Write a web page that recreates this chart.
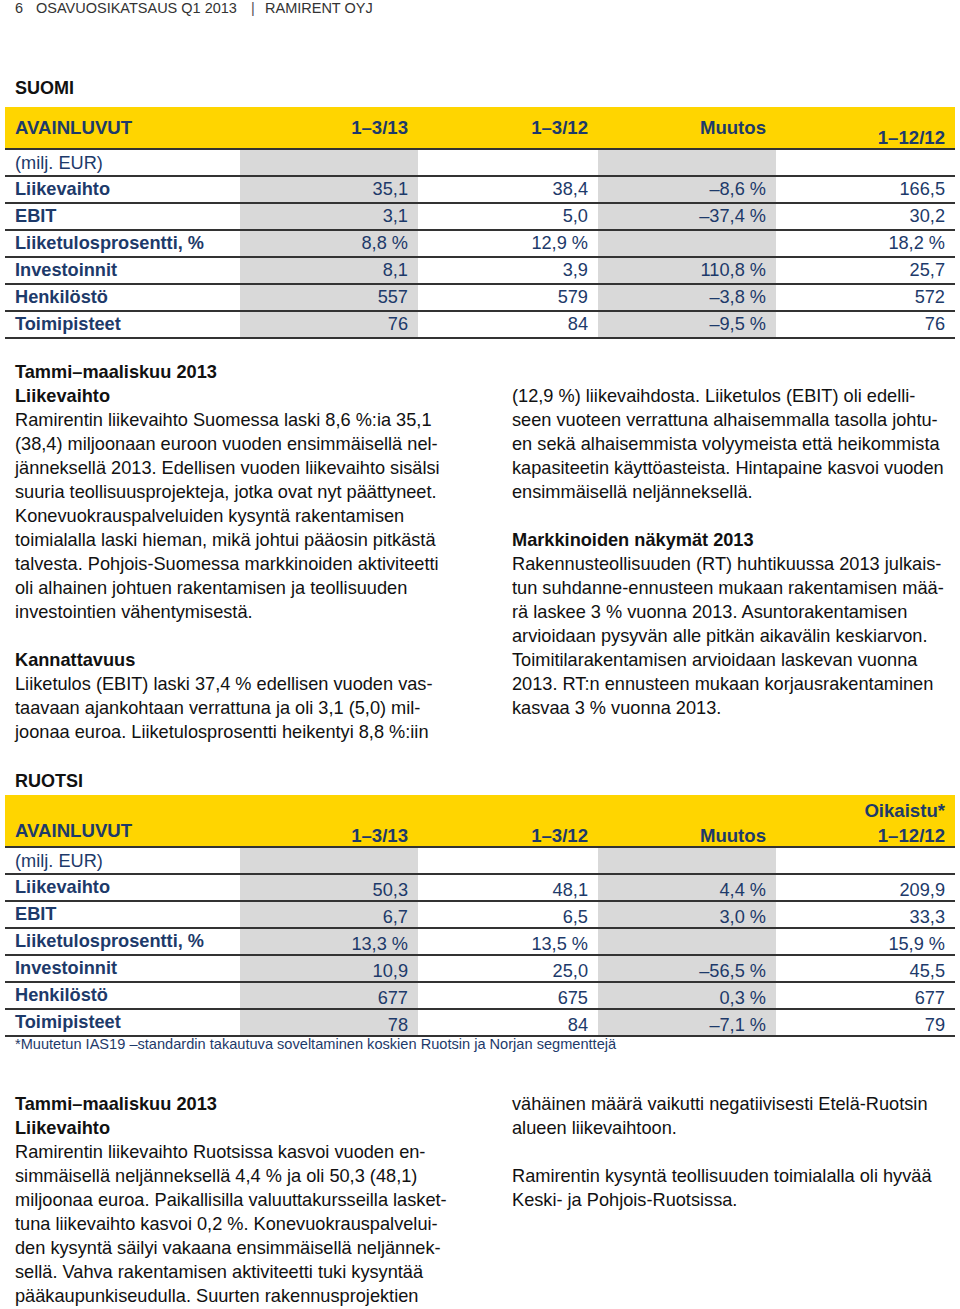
<!DOCTYPE html>
<html>
<head>
<meta charset="utf-8">
<script src="https://cdn.jsdelivr.net/npm/chart.js@4.4.0/dist/chart.umd.min.js"></script>
<style>
  html, body { margin: 0; padding: 0; background: #fff; }
  body { width: 960px; height: 1309px; position: relative; overflow: hidden;
         font-family: "Liberation Sans", Arial, Helvetica, sans-serif; color: #111; }
  .abs { position: absolute; white-space: nowrap; }
  .band { position: absolute; background: #ffd500; }
  .gray { position: absolute; background: #d9d9d9; }
  .rule { position: absolute; height: 2px; background: #333; }
  .cell { position: absolute; display: flex; color: #1d3a6a; font-size: 18.2px; white-space: nowrap; }
  .bold { font-weight: bold; }
  .line { position: absolute; font-size: 18.2px; line-height: 24px; white-space: nowrap; color: #111; }
</style>
</head>
<body>
<div id="page"></div>
<script>
// Table headings and rows
var rowLabels = ['Liikevaihto', 'EBIT', 'Liiketulosprosentti, %', 'Investoinnit', 'Henkilöstö', 'Toimipisteet'];
var colHeads = ['1–3/13', '1–3/12', 'Muutos', '1–12/12'];

// Suomi
var suomiQ113 = ['35,1', '3,1', '8,8 %', '8,1', '557', '76'];
var suomiQ112 = ['38,4', '5,0', '12,9 %', '3,9', '579', '84'];
var suomiChange = ['–8,6 %', '–37,4 %', '', '110,8 %', '–3,8 %', '–9,5 %'];
var suomiFY12 = ['166,5', '30,2', '18,2 %', '25,7', '572', '76'];

// Ruotsi
var ruotsiQ113 = ['50,3', '6,7', '13,3 %', '10,9', '677', '78'];
var ruotsiQ112 = ['48,1', '6,5', '13,5 %', '25,0', '675', '84'];
var ruotsiChange = ['4,4 %', '3,0 %', '', '–56,5 %', '0,3 %', '–7,1 %'];
var ruotsiFY12 = ['209,9', '33,3', '15,9 %', '45,5', '677', '79'];

var footnote = '*Muutetun IAS19 –standardin takautuva soveltaminen koskien Ruotsin ja Norjan segmenttejä';

// Body text, one entry per printed line ('#' = bold line)
var suomiLeft = [
  '#Tammi–maaliskuu 2013',
  '#Liikevaihto',
  'Ramirentin liikevaihto Suomessa laski 8,6 %:ia 35,1',
  '(38,4) miljoonaan euroon vuoden ensimmäisellä nel-',
  'jänneksellä 2013. Edellisen vuoden liikevaihto sisälsi',
  'suuria teollisuusprojekteja, jotka ovat nyt päättyneet.',
  'Konevuokrauspalveluiden kysyntä rakentamisen',
  'toimialalla laski hieman, mikä johtui pääosin pitkästä',
  'talvesta. Pohjois-Suomessa markkinoiden aktiviteetti',
  'oli alhainen johtuen rakentamisen ja teollisuuden',
  'investointien vähentymisestä.',
  '',
  '#Kannattavuus',
  'Liiketulos (EBIT) laski 37,4 % edellisen vuoden vas-',
  'taavaan ajankohtaan verrattuna ja oli 3,1 (5,0) mil-',
  'joonaa euroa. Liiketulosprosentti heikentyi 8,8 %:iin'
];
var suomiRight = [
  '',
  '(12,9 %) liikevaihdosta. Liiketulos (EBIT) oli edelli-',
  'seen vuoteen verrattuna alhaisemmalla tasolla johtu-',
  'en sekä alhaisemmista volyymeista että heikommista',
  'kapasiteetin käyttöasteista. Hintapaine kasvoi vuoden',
  'ensimmäisellä neljänneksellä.',
  '',
  '#Markkinoiden näkymät 2013',
  'Rakennusteollisuuden (RT) huhtikuussa 2013 julkais-',
  'tun suhdanne-ennusteen mukaan rakentamisen mää-',
  'rä laskee 3 % vuonna 2013. Asuntorakentamisen',
  'arvioidaan pysyvän alle pitkän aikavälin keskiarvon.',
  'Toimitilarakentamisen arvioidaan laskevan vuonna',
  '2013. RT:n ennusteen mukaan korjausrakentaminen',
  'kasvaa 3 % vuonna 2013.'
];
var ruotsiLeft = [
  '#Tammi–maaliskuu 2013',
  '#Liikevaihto',
  'Ramirentin liikevaihto Ruotsissa kasvoi vuoden en-',
  'simmäisellä neljänneksellä 4,4 % ja oli 50,3 (48,1)',
  'miljoonaa euroa. Paikallisilla valuuttakursseilla lasket-',
  'tuna liikevaihto kasvoi 0,2 %. Konevuokrauspalvelui-',
  'den kysyntä säilyi vakaana ensimmäisellä neljännek-',
  'sellä. Vahva rakentamisen aktiviteetti tuki kysyntää',
  'pääkaupunkiseudulla. Suurten rakennusprojektien'
];
var ruotsiRight = [
  'vähäinen määrä vaikutti negatiivisesti Etelä-Ruotsin',
  'alueen liikevaihtoon.',
  '',
  'Ramirentin kysyntä teollisuuden toimialalla oli hyvää',
  'Keski- ja Pohjois-Ruotsissa.'
];

var page = document.getElementById('page');

function add(cls, css, text) {
  var d = document.createElement('div');
  d.className = cls;
  d.style.cssText = css;
  if (text !== undefined) d.textContent = text;
  page.appendChild(d);
  return d;
}

// column edges: label, col1..col4
var colX = [5, 240, 418, 598, 776, 955];

function drawTable(top, headH, heads, series, labelShift, valueShift) {
  var rowH = 27;
  var bodyTop = top + headH;
  var bottom = bodyTop + rowH * 7;
  add('band', 'left:5px;top:' + top + 'px;width:950px;height:' + headH + 'px;');
  add('gray', 'left:' + colX[1] + 'px;top:' + bodyTop + 'px;width:' + (colX[2] - colX[1]) + 'px;height:' + (bottom - bodyTop) + 'px;');
  add('gray', 'left:' + colX[3] + 'px;top:' + bodyTop + 'px;width:' + (colX[4] - colX[3]) + 'px;height:' + (bottom - bodyTop) + 'px;');
  // rules under header and under each row
  for (var r = 0; r <= 7; r++) {
    add('rule', 'left:5px;width:950px;top:' + (bodyTop + r * rowH - 1) + 'px;');
  }
  // header texts
  heads.forEach(function (h) {
    add('cell bold', 'left:' + h.x0 + 'px;width:' + (h.x1 - h.x0) + 'px;top:' + (h.y - 12) + 'px;height:24px;align-items:center;justify-content:' + h.align + ';font-size:18.6px;', h.text);
  });
  // (milj. EUR)
  add('cell', 'left:15px;top:' + (bodyTop + 1) + 'px;height:' + rowH + 'px;align-items:center;', '(milj. EUR)');
  rowLabels.forEach(function (label, i) {
    var y = bodyTop + rowH * (i + 1);
    add('cell bold', 'left:15px;top:' + (y + labelShift) + 'px;height:' + rowH + 'px;align-items:center;', label);
    series.forEach(function (vals, c) {
      add('cell', 'left:' + colX[c + 1] + 'px;width:' + (colX[c + 2] - colX[c + 1] - 10) + 'px;top:' + (y + valueShift) + 'px;height:' + rowH + 'px;align-items:center;justify-content:flex-end;', vals[i]);
    });
  });
  return bottom;
}

function drawLines(lines, x, y0) {
  lines.forEach(function (t, i) {
    if (!t) return;
    var bold = t.charAt(0) === '#';
    add('line' + (bold ? ' bold' : ''), 'left:' + x + 'px;top:' + (y0 + i * 24 - 12) + 'px;', bold ? t.slice(1) : t);
  });
}

// page header
add('abs', 'left:15px;top:0;font-size:14.5px;color:#333;line-height:16px;', '6');
add('abs', 'left:36px;top:0;font-size:14.5px;color:#333;line-height:16px;', 'OSAVUOSIKATSAUS Q1 2013');
add('abs', 'left:251px;top:0;font-size:14.5px;color:#555;line-height:16px;', '|');
add('abs', 'left:265px;top:0;font-size:14.5px;color:#333;line-height:16px;', 'RAMIRENT OYJ');

// SUOMI
add('abs bold', 'left:15px;top:77px;font-size:18px;line-height:22px;', 'SUOMI');
drawTable(107, 42, [
  { text: 'AVAINLUVUT', x0: 15, x1: 240, y: 128, align: 'flex-start' },
  { text: colHeads[0], x0: colX[1], x1: colX[2] - 10, y: 128, align: 'flex-end' },
  { text: colHeads[1], x0: colX[2], x1: colX[3] - 10, y: 128, align: 'flex-end' },
  { text: colHeads[2], x0: colX[3], x1: colX[4] - 10, y: 128, align: 'flex-end' },
  { text: colHeads[3], x0: colX[4], x1: colX[5] - 10, y: 138, align: 'flex-end' }
], [suomiQ113, suomiQ112, suomiChange, suomiFY12], 0, 0);

drawLines(suomiLeft, 15, 372);
drawLines(suomiRight, 512, 372);

// RUOTSI
add('abs bold', 'left:15px;top:770px;font-size:18px;line-height:22px;', 'RUOTSI');
drawTable(795, 52, [
  { text: 'AVAINLUVUT', x0: 15, x1: 240, y: 831, align: 'flex-start' },
  { text: colHeads[0], x0: colX[1], x1: colX[2] - 10, y: 836, align: 'flex-end' },
  { text: colHeads[1], x0: colX[2], x1: colX[3] - 10, y: 836, align: 'flex-end' },
  { text: colHeads[2], x0: colX[3], x1: colX[4] - 10, y: 836, align: 'flex-end' },
  { text: 'Oikaistu*', x0: colX[4], x1: colX[5] - 10, y: 811, align: 'flex-end' },
  { text: colHeads[3], x0: colX[4], x1: colX[5] - 10, y: 836, align: 'flex-end' }
], [ruotsiQ113, ruotsiQ112, ruotsiChange, ruotsiFY12], 0, 3);
add('abs', 'left:15px;top:1036px;font-size:14.6px;line-height:16px;color:#1d3a6a;', footnote);

drawLines(ruotsiLeft, 15, 1104);
drawLines(ruotsiRight, 512, 1104);
</script>
</body>
</html>
